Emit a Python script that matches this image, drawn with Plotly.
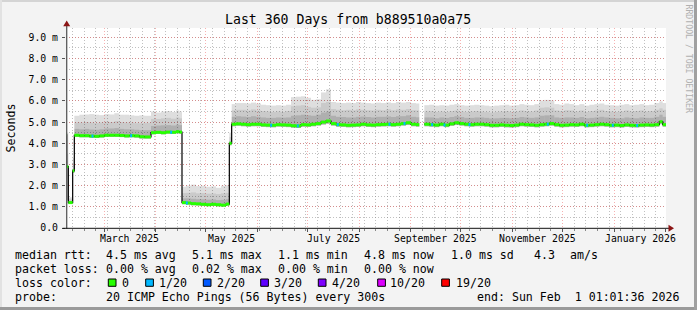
import numpy as np
import pandas as pd
import plotly.graph_objects as go

# ---------------- data ----------------
START = pd.Timestamp("2025-02-06 01:01:36")
END = pd.Timestamp("2026-02-01 01:01:36")
Y_MAX = 9.443

# sample start, in days after START
days = [0, 0.4, 1.4, 4.0,
        5.0, 8, 11, 14, 17, 20, 23, 26, 29, 32, 35, 38, 41, 44, 47,
        51, 54, 57, 60, 63, 66, 68,
        69.6, 72, 75, 78, 81, 84, 87, 90, 93, 96,
        98, 99.4,
        102, 105, 108, 111, 114, 117, 120, 123, 126, 129,
        132, 135, 138, 141, 144, 147, 150, 153, 156, 159,
        162, 165, 168, 171, 174, 177, 180, 183, 186, 189,
        192, 195, 198, 201, 204, 207, 210,
        212,
        215, 218, 221, 224, 227, 230, 233, 236, 239, 242,
        245, 248, 251, 254, 257, 260, 263, 266, 269, 272,
        275, 278, 281, 284, 287, 290, 293, 296, 299, 302,
        305, 308, 311, 314, 317, 320, 323, 326, 329, 332,
        335, 338, 341, 344, 347, 350, 353, 356,
        358]

median_ms = [4.40, 2.90, 1.20, 2.70,
             4.38, 4.36, 4.36, 4.34, 4.33, 4.35, 4.38, 4.38, 4.38, 4.37, 4.35, 4.36, 4.35, 4.31, 4.30,
             4.50, 4.52, 4.50, 4.53, 4.52, 4.55, 4.53,
             1.20, 1.18, 1.15, 1.14, 1.12, 1.10, 1.12, 1.10, 1.08, 1.13,
             4.00, 4.90,
             4.92, 4.90, 4.88, 4.90, 4.90, 4.87, 4.86, 4.85, 4.88, 4.87,
             4.86, 4.83, 4.82, 4.88, 4.87, 4.90, 4.93, 5.00, 5.05, 4.93,
             4.88, 4.87, 4.85, 4.86, 4.87, 4.90, 4.87, 4.86, 4.88, 4.89,
             4.90, 4.88, 4.90, 4.93, 4.97, 4.90, 4.88,
             None,
             4.90, 4.88, 4.86, 4.90, 4.86, 4.92, 4.97, 4.93, 4.90, 4.88,
             4.90, 4.90, 4.88, 4.85, 4.85, 4.87, 4.85, 4.84, 4.86, 4.90,
             4.88, 4.87, 4.85, 4.88, 4.90, 4.93, 4.88, 4.85, 4.86, 4.88,
             4.87, 4.90, 4.85, 4.86, 4.88, 4.90, 4.88, 4.85, 4.86, 4.84,
             4.87, 4.85, 4.84, 4.86, 4.87, 4.86, 4.88, 5.02,
             4.88]

smoke_min = [4.30, 1.30, 1.15, 2.60,
             4.30, 4.28, 4.28, 4.26, 4.25, 4.27, 4.30, 4.30, 4.30, 4.29, 4.27, 4.28, 4.26, 4.22, 4.22,
             4.42, 4.44, 4.42, 4.45, 4.44, 4.46, 4.45,
             1.12, 1.10, 1.07, 1.06, 1.04, 1.03, 1.04, 1.02, 1.01, 1.05,
             3.90, 4.80,
             4.82, 4.80, 4.78, 4.80, 4.80, 4.77, 4.76, 4.75, 4.78, 4.77,
             4.76, 4.73, 4.72, 4.78, 4.77, 4.80, 4.83, 4.88, 4.92, 4.83,
             4.78, 4.77, 4.75, 4.76, 4.77, 4.80, 4.77, 4.76, 4.78, 4.79,
             4.80, 4.78, 4.80, 4.83, 4.86, 4.80, 4.78,
             None,
             4.80, 4.78, 4.76, 4.80, 4.76, 4.82, 4.86, 4.83, 4.80, 4.78,
             4.80, 4.80, 4.78, 4.75, 4.75, 4.77, 4.75, 4.74, 4.76, 4.80,
             4.78, 4.77, 4.75, 4.78, 4.80, 4.83, 4.78, 4.75, 4.76, 4.78,
             4.77, 4.80, 4.75, 4.76, 4.78, 4.80, 4.78, 4.75, 4.76, 4.74,
             4.77, 4.75, 4.74, 4.76, 4.77, 4.76, 4.78, 4.90,
             4.78]

smoke_inner = [4.60, 2.95, 1.25, 2.80,
               4.68, 4.66, 4.68, 4.65, 4.64, 4.66, 4.70, 4.70, 4.72, 4.68, 4.66, 4.66, 4.64, 4.62, 4.62,
               4.82, 4.84, 4.85, 4.86, 4.84, 4.88, 4.86,
               1.40, 1.40, 1.38, 1.36, 1.36, 1.34, 1.35, 1.32, 1.33, 1.36,
               4.10, 5.25,
               5.28, 5.26, 5.24, 5.28, 5.25, 5.22, 5.20, 5.20, 5.22, 5.21,
               5.22, 5.30, 5.32, 5.35, 5.32, 5.30, 5.35, 5.45, 5.50, 5.30,
               5.25, 5.24, 5.22, 5.22, 5.25, 5.26, 5.24, 5.22, 5.25, 5.25,
               5.27, 5.24, 5.28, 5.28, 5.32, 5.25, 5.23,
               None,
               5.22, 5.22, 5.18, 5.22, 5.20, 5.24, 5.28, 5.24, 5.20, 5.20,
               5.22, 5.22, 5.20, 5.17, 5.18, 5.20, 5.20, 5.18, 5.20, 5.24,
               5.22, 5.20, 5.22, 5.30, 5.32, 5.32, 5.22, 5.20, 5.22, 5.22,
               5.20, 5.24, 5.18, 5.20, 5.22, 5.25, 5.22, 5.20, 5.18, 5.18,
               5.22, 5.20, 5.18, 5.22, 5.20, 5.20, 5.25, 5.35,
               5.25]

smoke_mid = [4.80, 3.50, 1.35, 3.00,
             4.98, 4.98, 5.00, 4.98, 4.96, 4.98, 5.02, 5.00, 5.05, 5.00, 4.98, 4.98, 4.95, 4.95, 4.96,
             5.15, 5.15, 5.18, 5.20, 5.16, 5.22, 5.18,
             1.65, 1.66, 1.68, 1.64, 1.65, 1.62, 1.63, 1.60, 1.64, 1.66,
             4.30, 5.55,
             5.58, 5.58, 5.55, 5.60, 5.55, 5.52, 5.50, 5.48, 5.50, 5.48,
             5.52, 5.75, 5.78, 5.80, 5.72, 5.68, 5.70, 5.90, 5.95, 5.62,
             5.58, 5.56, 5.58, 5.56, 5.60, 5.58, 5.56, 5.55, 5.58, 5.56,
             5.60, 5.56, 5.60, 5.58, 5.62, 5.56, 5.55,
             None,
             5.50, 5.52, 5.48, 5.50, 5.48, 5.52, 5.55, 5.50, 5.48, 5.50,
             5.52, 5.50, 5.48, 5.45, 5.48, 5.50, 5.52, 5.48, 5.50, 5.55,
             5.52, 5.50, 5.55, 5.68, 5.70, 5.68, 5.55, 5.52, 5.56, 5.55,
             5.50, 5.55, 5.48, 5.52, 5.55, 5.58, 5.52, 5.50, 5.48, 5.50,
             5.55, 5.50, 5.52, 5.55, 5.50, 5.52, 5.58, 5.65,
             5.58]

smoke_max = [5.00, 4.50, 1.45, 3.30,
             5.30, 5.35, 5.36, 5.38, 5.35, 5.33, 5.38, 5.36, 5.42, 5.35, 5.35, 5.32, 5.30, 5.32, 5.30,
             5.50, 5.45, 5.50, 5.52, 5.48, 5.55, 5.50,
             1.95, 2.00, 2.05, 1.98, 2.00, 1.95, 1.97, 1.90, 2.00, 2.02,
             4.50, 5.85,
             5.90, 5.90, 5.88, 5.92, 5.88, 5.82, 5.80, 5.78, 5.80, 5.78,
             5.82, 6.18, 6.20, 6.22, 6.15, 6.05, 6.08, 6.40, 6.55, 5.95,
             5.92, 5.90, 5.92, 5.90, 5.95, 5.92, 5.90, 5.88, 5.92, 5.90,
             5.93, 5.90, 5.95, 5.92, 5.95, 5.90, 5.88,
             None,
             5.80, 5.82, 5.78, 5.80, 5.78, 5.82, 5.85, 5.80, 5.78, 5.80,
             5.82, 5.80, 5.78, 5.75, 5.78, 5.80, 5.82, 5.78, 5.80, 5.85,
             5.82, 5.80, 5.85, 6.02, 6.05, 6.02, 5.85, 5.82, 5.88, 5.85,
             5.80, 5.85, 5.78, 5.82, 5.85, 5.88, 5.82, 5.80, 5.78, 5.82,
             5.85, 5.80, 5.82, 5.85, 5.80, 5.82, 5.90, 5.98,
             5.90]

# days with 1/20 packet loss
loss_days = [15.8, 39, 63, 72.4, 123, 139, 163, 194, 203, 219.6, 227, 242,
             289, 312.6, 328, 342.6]

y_ticks = [0, 1, 2, 3, 4, 5, 6, 7, 8, 9]
y_ticktext = ["0.0", "1.0 m", "2.0 m", "3.0 m", "4.0 m", "5.0 m",
              "6.0 m", "7.0 m", "8.0 m", "9.0 m"]
month_labels = ["March 2025", "May 2025", "July 2025", "September 2025",
                "November 2025", "January 2026"]
month_label_dates = ["2025-03-16 06:00", "2025-05-16 12:00", "2025-07-16 12:00",
                     "2025-09-16", "2025-11-16", "2026-01-16 12:00"]

title_text = "Last 360 Days from b889510a0a75"
ylabel_text = "Seconds"
watermark = "RRDTOOL / TOBI OETIKER"

legend_row1 = [(16, "median rtt:"), (107.3, "4.5 ms avg"), (193.3, "5.1 ms max"),
               (279.3, "1.1 ms min"), (365, "4.8 ms now"), (451.7, "1.0 ms sd"),
               (535, "4.3"), (571, "am/s")]
legend_row2 = [(16, "packet loss:"), (107.3, "0.00 % avg"), (193.3, "0.02 % max"),
               (279.3, "0.00 % min"), (365, "0.00 % now")]
loss_labels = ["0", "1/20", "2/20", "3/20", "4/20", "10/20", "19/20"]
loss_colors = ["#26ff00", "#00b8ff", "#0059ff", "#5e00ff", "#7e00ff", "#dd00ff", "#ff0000"]
loss_box_x = [108.3, 145.7, 203.3, 260.7, 318.3, 377.7, 441.7]
loss_text_x = [123.3, 160.0, 217.7, 275.2, 332.8, 391.0, 457.3]
legend_row4 = [(16, "probe:"), (107.3, "20 ICMP Echo Pings (56 Bytes) every 300s"),
               (478.3, "end: Sun Feb  1 01:01:36 2026")]

# ---------------- geometry helpers ----------------
W, H = 697, 310
ML, MT, PW, PH = 66, 28, 600, 200
MR = W - ML - PW
MB = H - MT - PH


def xp(px):
    return (px - ML) / PW


def yp(py):
    return (MT + PH - py) / PH


FONT = "DejaVu Sans Mono"

# ---------------- series prep ----------------
n = len(days)
assert all(len(a) == n for a in (median_ms, smoke_min, smoke_inner, smoke_mid, smoke_max))

t = [START + pd.Timedelta(days=d) for d in days]
t_next = t[1:] + [END]
t_mid = [a + (b - a) / 2 for a, b in zip(t, t_next)]
w_ms = [(b - a).total_seconds() * 1000.0 for a, b in zip(t, t_next)]


def arr(v):
    return np.array([np.nan if x is None else x for x in v], dtype=float)


med = arr(median_ms)
lo = arr(smoke_min)
q_in = arr(smoke_inner)
q_mid = arr(smoke_mid)
hi = arr(smoke_max)

fig = go.Figure()

# smoke bands (semi-transparent black so the grid shows through)
for top, alpha in ((hi, 0.13), (q_mid, 0.09), (q_in, 0.13)):
    fig.add_trace(go.Bar(
        x=t_mid, y=top - lo, base=lo, width=w_ms,
        marker=dict(color=f"rgba(0,0,0,{alpha})", line=dict(width=0)),
        hoverinfo="skip", showlegend=False))

# black median (step) line
fig.add_trace(go.Scatter(
    x=t + [END], y=list(med) + [med[-1]], mode="lines",
    line=dict(color="#000000", width=1.2, shape="hv"),
    connectgaps=False, hoverinfo="skip", showlegend=False))

# green (0 loss) median segments
gx, gy = [], []
for a, b, m in zip(t, t_next, med):
    if np.isnan(m):
        continue
    gx += [a, b, None]
    gy += [m, m, None]
fig.add_trace(go.Scatter(x=gx, y=gy, mode="lines",
                         line=dict(color="#26ff00", width=3),
                         hoverinfo="skip", showlegend=False))

# blue (1/20 loss) segments
bx, by = [], []
for d in loss_days:
    ts = START + pd.Timedelta(days=d)
    i = max(k for k in range(n) if t[k] <= ts)
    if np.isnan(med[i]):
        continue
    bx += [ts - pd.Timedelta(hours=12), ts + pd.Timedelta(hours=16), None]
    by += [med[i], med[i], None]
fig.add_trace(go.Scatter(x=bx, y=by, mode="lines",
                         line=dict(color="#00b8ff", width=3),
                         hoverinfo="skip", showlegend=False))

MAJOR = "rgba(235,80,80,0.45)"
MINOR = "rgba(130,130,130,0.5)"
DASH = "1px,2px"

fig.update_layout(
    width=W, height=H,
    margin=dict(l=ML, r=MR, t=MT, b=MB, pad=0),
    paper_bgcolor="#f3f3f3", plot_bgcolor="#ffffff",
    barmode="overlay", showlegend=False,
    font=dict(family=FONT, color="#000000"),
    xaxis=dict(
        type="date", range=[START, END],
        showticklabels=False, showline=False, zeroline=False,
        tick0="2025-03-01", dtick="M1",
        showgrid=True, gridcolor=MAJOR, griddash=DASH, gridwidth=1,
        ticks="outside", ticklen=3, tickcolor="#555555",
        minor=dict(tick0="2025-02-10", dtick=7 * 86400000, showgrid=True,
                   gridcolor=MINOR, griddash=DASH, gridwidth=1,
                   ticks="outside", ticklen=2, tickcolor="#888888"),
    ),
    yaxis=dict(
        range=[0, Y_MAX], tickmode="array", tickvals=y_ticks, ticktext=y_ticktext,
        tickfont=dict(family=FONT, size=9.8, color="#000000"),
        showline=False, zeroline=False,
        showgrid=True, gridcolor=MAJOR, griddash=DASH, gridwidth=1,
        ticks="outside", ticklen=3, tickcolor="#555555", ticklabelstandoff=2,
        minor=dict(dtick=0.5, tick0=0, showgrid=True, gridcolor=MINOR,
                   griddash=DASH, gridwidth=1),
    ),
)

shapes = []
# image border
shapes.append(dict(type="rect", xref="paper", yref="paper", x0=xp(0), x1=xp(W), y0=yp(0), y1=yp(2),
                   fillcolor="#d4d4d4", line=dict(width=0), layer="above"))
shapes.append(dict(type="rect", xref="paper", yref="paper", x0=xp(0), x1=xp(2), y0=yp(0), y1=yp(H),
                   fillcolor="#e2e2e2", line=dict(width=0), layer="above"))
shapes.append(dict(type="rect", xref="paper", yref="paper", x0=xp(0), x1=xp(W), y0=yp(H - 3), y1=yp(H),
                   fillcolor="#9a9a9a", line=dict(width=0), layer="above"))
shapes.append(dict(type="rect", xref="paper", yref="paper", x0=xp(W - 3), x1=xp(W), y0=yp(0), y1=yp(H),
                   fillcolor="#a0a0a0", line=dict(width=0), layer="above"))
# axis lines
shapes.append(dict(type="line", xref="paper", yref="paper", x0=xp(66.7), x1=xp(66.7),
                   y0=yp(228.8), y1=yp(25), line=dict(color="#5a5a5a", width=1.3), layer="above"))
shapes.append(dict(type="line", xref="paper", yref="paper", x0=xp(62.5), x1=xp(670),
                   y0=yp(228.3), y1=yp(228.3), line=dict(color="#111111", width=1), layer="above"))
# arrows
shapes.append(dict(type="path", xref="paper", yref="paper",
                   path=f"M {xp(66.7)} {yp(20.5)} L {xp(63.2)} {yp(26.2)} L {xp(70.2)} {yp(26.2)} Z",
                   fillcolor="#8b1515", line=dict(width=0), layer="above"))
shapes.append(dict(type="path", xref="paper", yref="paper",
                   path=f"M {xp(674)} {yp(228.3)} L {xp(668.5)} {yp(224.8)} L {xp(668.5)} {yp(231.8)} Z",
                   fillcolor="#8b1515", line=dict(width=0), layer="above"))
# loss color boxes
for bxp, col in zip(loss_box_x, loss_colors):
    shapes.append(dict(type="rect", xref="paper", yref="paper",
                       x0=xp(bxp), x1=xp(bxp + 7.7), y0=yp(279), y1=yp(286.3),
                       fillcolor=col, line=dict(color="#000000", width=1), layer="above"))
fig.update_layout(shapes=shapes)

ann = []


def text(px, py, s, size=11.6, anchor="left", color="#000000", angle=0):
    ann.append(dict(x=xp(px), y=yp(py), xref="paper", yref="paper", text=s.replace(" ", "\u00a0"),
                    showarrow=False, xanchor=anchor, yanchor="middle", textangle=angle,
                    borderpad=0, borderwidth=0,
                    font=dict(family=FONT, size=size, color=color)))


text(347.5, 19.5, title_text, size=13.2, anchor="center")
text(10.5, 128, ylabel_text, size=11.6, anchor="center", angle=-90)
text(688.5, 59, watermark, size=8.2, anchor="center", color="#b0b0b0", angle=90)

for lbl, d in zip(month_labels, month_label_dates):
    ann.append(dict(x=pd.Timestamp(d), y=yp(238), xref="x", yref="paper", text=lbl,
                    showarrow=False, xanchor="center", yanchor="middle",
                    borderpad=0, borderwidth=0,
                    font=dict(family=FONT, size=9.8, color="#000000")))

ROWS = [255.0, 269.0, 283.0, 297.0]
for px, s in legend_row1:
    text(px - 1, ROWS[0], s)
for px, s in legend_row2:
    text(px - 1, ROWS[1], s)
text(15, ROWS[2], "loss color:")
for px, s in zip(loss_text_x, loss_labels):
    text(px - 1, ROWS[2], s)
for px, s in legend_row4:
    text(px - 1, ROWS[3], s)

fig.update_layout(annotations=ann)

fig.write_html("out.html")
